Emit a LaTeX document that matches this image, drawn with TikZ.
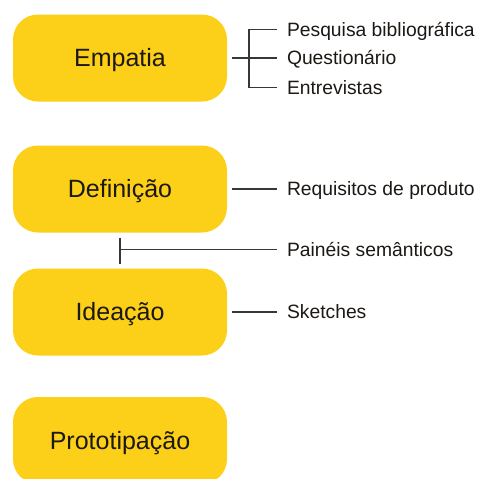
\documentclass[tikz,border=0pt]{standalone}
\usepackage{fontspec}
\setmainfont{Liberation Sans}
\definecolor{ouro}{RGB}{252,208,24}
\definecolor{tinta}{RGB}{28,24,20}
\definecolor{traco}{RGB}{55,55,55}
\begin{document}
\begin{tikzpicture}[x=1pt, y=-1pt,
    etapa/.style={fill=ouro, rounded corners=25pt, minimum width=214pt,
      minimum height=87pt, inner sep=0pt, outer sep=5pt, text=tinta,
      font=\fontsize{25}{30}\selectfont, text height=17.9pt, text depth=0pt},
    item/.style={anchor=west, inner sep=0pt, outer sep=10pt, text=tinta,
      font=\fontsize{19.3}{23}\selectfont, text height=13.8pt, text depth=0pt},
    liga/.style={draw=traco, line width=1.3pt}]
    \useasboundingbox (0,0) rectangle (479,479);
    % etapas
    \node[etapa] (empatia) at (120,58) {Empatia};
    \node[etapa] (definicao) at (120,189) {Definição};
    \node[etapa] (ideacao) at (120,312) {Ideação};
    \node[etapa] (prototipacao) at (120,440.5) {Prototipação};
    % itens
    \node[item] (pesquisa) at (277,29.5) {Pesquisa bibliográfica};
    \node[item] (questionario) at (277,58) {Questionário};
    \node[item] (entrevistas) at (277,87.5) {Entrevistas};
    \node[item] (requisitos) at (277,189) {Requisitos de produto};
    \node[item] (paineis) at (277,249.5) {Painéis semânticos};
    \node[item] (sketches) at (277,312) {Sketches};
    % ligacoes
    \coordinate (ramo) at (249,58);
    \coordinate (juncao) at (definicao.south |- paineis.west);
    \draw[liga] (empatia) -- (questionario);
    \draw[liga] (pesquisa.west) -| (ramo) |- (entrevistas.west);
    \draw[liga] (definicao) -- (requisitos);
    \draw[liga] (definicao.south) -- (ideacao.north);
    \draw[liga] (juncao) -- (paineis.west);
    \draw[liga] (ideacao) -- (sketches);
  \end{tikzpicture}
\end{document}
